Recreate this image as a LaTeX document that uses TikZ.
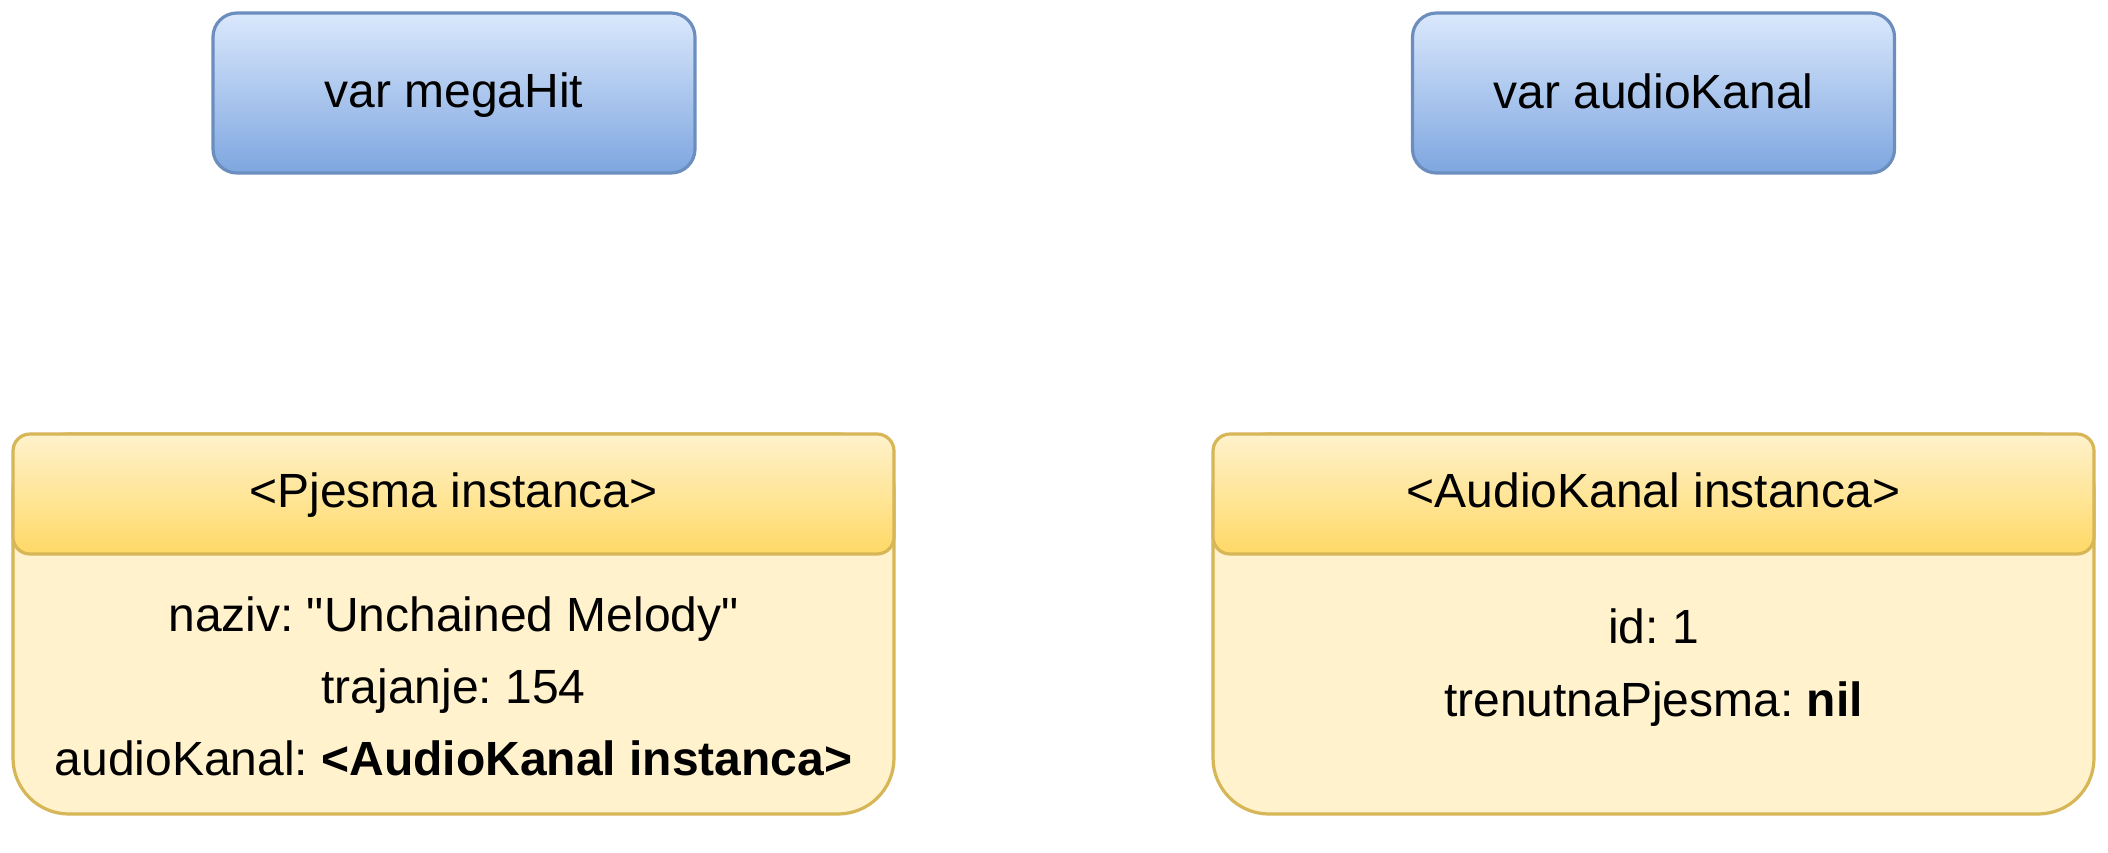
\documentclass[tikz,border=0pt]{standalone}
\usepackage{fontspec}
\setmainfont{Liberation Sans}
\definecolor{blueTop}{HTML}{DAE8FC}
\definecolor{blueBot}{HTML}{7EA6E0}
\definecolor{blueLine}{HTML}{6C8EBF}
\definecolor{yelFill}{HTML}{FFF2CC}
\definecolor{yelHead}{HTML}{FFD966}
\definecolor{yelLine}{HTML}{D6B656}
\frenchspacing
\begin{document}
\begin{tikzpicture}[x=0.5pt,y=-0.5pt,
  font=\fontsize{24}{28}\selectfont,
  varbox/.style={draw=blueLine, line width=1.6pt, rounded corners=12pt,
    top color=blueTop, bottom color=blueBot,
    minimum width=241pt, minimum height=80pt, inner sep=0pt},
  bodybox/.style={draw=yelLine, fill=yelFill, line width=1.6pt, rounded corners=28pt},
  headbox/.style={draw=yelLine, line width=1.6pt, rounded corners=8.5pt,
    top color=yelFill, bottom color=yelHead,
    minimum width=440.5pt, minimum height=60pt, inner sep=0pt},
  txt/.style={anchor=base, inner sep=0pt}]
\useasboundingbox (0,0) rectangle (2108,852);

% variables
\node[varbox] (mh) at (454,93) {};
\node[txt] (mht) at (454,107) {var megaHit};
\node[varbox] (ak) at (1653.5,93) {};
\node[txt] (akvt) at (1653.5,108) {var audioKanal};

% Pjesma instance
\draw[bodybox] (13,434) rectangle (894,814);
\node[headbox] (pjh) at (453.5,494) {};
\node[txt] (pjt) at (453.5,507) {<Pjesma instanca>};
\node[txt] (pj1) at (453.5,631) {naziv: \textquotedbl Unchained Melody\textquotedbl};
\node[txt] (pj2) at (453.5,703) {trajanje: 154};
\node[txt] (pj3) at (453.5,775) {audioKanal: \textbf{<AudioKanal instanca>}};

% AudioKanal instance
\draw[bodybox] (1213,434) rectangle (2094,814);
\node[headbox] (akh) at (1653.5,494) {};
\node[txt] (akt) at (1653.5,507) {<AudioKanal instanca>};
\node[txt] (ak1) at (1653.5,643) {id: 1};
\node[txt] (ak2) at (1653.5,716) {trenutnaPjesma: \textbf{nil}};
\end{tikzpicture}
\end{document}
